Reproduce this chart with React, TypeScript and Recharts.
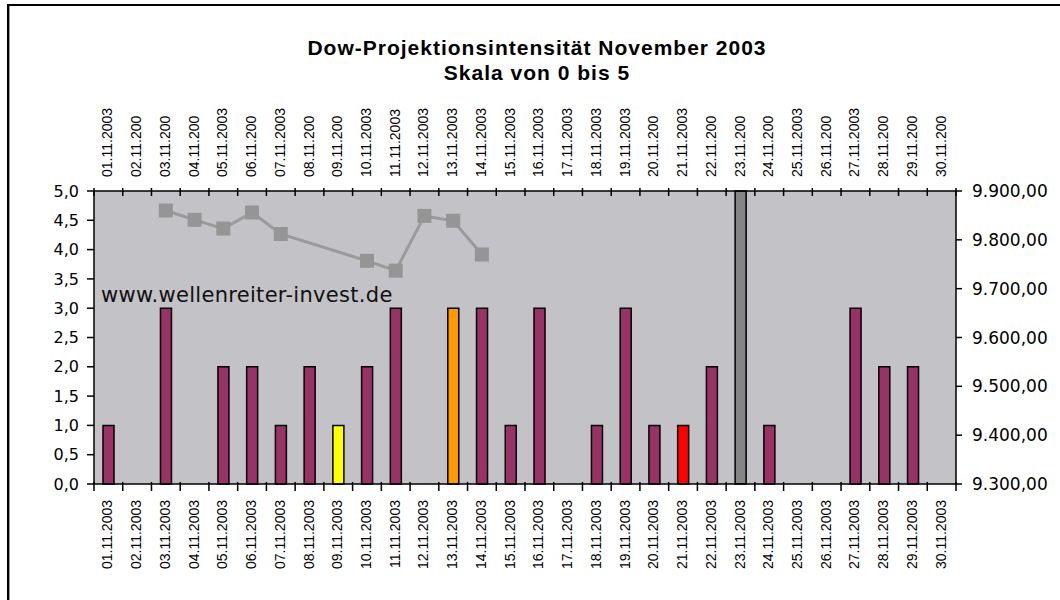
import React from 'react';
import { ComposedChart, Bar, Line, XAxis, YAxis, CartesianGrid, Cell } from 'recharts';

// categories (bottom axis) and the clipped labels Excel shows on the top axis
const days = [
    '01.11.2003', '02.11.2003', '03.11.2003', '04.11.2003', '05.11.2003', '06.11.2003',
    '07.11.2003', '08.11.2003', '09.11.2003', '10.11.2003', '11.11.2003', '12.11.2003',
    '13.11.2003', '14.11.2003', '15.11.2003', '16.11.2003', '17.11.2003', '18.11.2003',
    '19.11.2003', '20.11.2003', '21.11.2003', '22.11.2003', '23.11.2003', '24.11.2003',
    '25.11.2003', '26.11.2003', '27.11.2003', '28.11.2003', '29.11.2003', '30.11.2003'
];
const topLabels = [
    '01.11.2003', '02.11.200', '03.11.200', '04.11.200', '05.11.2003', '06.11.200',
    '07.11.2003', '08.11.200', '09.11.200', '10.11.2003', '11.11.2003', '12.11.2003',
    '13.11.2003', '14.11.2003', '15.11.2003', '16.11.2003', '17.11.2003', '18.11.2003',
    '19.11.2003', '20.11.200', '21.11.2003', '22.11.200', '23.11.200', '24.11.200',
    '25.11.2003', '26.11.200', '27.11.2003', '28.11.200', '29.11.200', '30.11.200'
];

// projection intensity, scale 0..5
const intensity = [1, 0, 3, 0, 2, 2, 1, 2, 1, 2, 3, 0, 3, 3, 1, 3, 0, 1, 3, 1, 1, 2, 5, 1, 0, 0, 3, 2, 2, 0];

// Dow closing values (right axis)
const dowClose = [
    null, null, 9860, 9841, 9823, 9856, 9812, null, null, 9757, 9737, 9849, 9839, 9770,
    null, null, null, null, null, null, null, null, null, null, null, null, null, null, null, null
];

const leftTicks = [0, 0.5, 1, 1.5, 2, 2.5, 3, 3.5, 4, 4.5, 5];
const rightTicks = [9300, 9400, 9500, 9600, 9700, 9800, 9900];

const specialColors: Record<string, string> = {
    '09.11.2003': '#FFFF00',
    '13.11.2003': '#FF9900',
    '21.11.2003': '#FF0000',
    '23.11.2003': '#858585'
};

const W = 1060;
const H = 600;
const PLOT_LEFT = 94;
const PLOT_RIGHT = 956;
const PLOT_TOP = 191;
const PLOT_BOTTOM = 484;
const BAND = (PLOT_RIGHT - PLOT_LEFT) / days.length;

const labelFont = "'Liberation Sans', Arial, sans-serif";
const axisFont = "'DejaVu Sans', sans-serif";

const data = days.map((day, i) => ({
    day,
    top: topLabels[i],
    value: intensity[i],
    dow: dowClose[i]
}));

const fmtLeft = (v: number) => v.toFixed(1).replace('.', ',');
const fmtRight = (v: number) => {
    const [i, d] = v.toFixed(2).split('.');
    return i.replace(/\B(?=(\d{3})+(?!\d))/g, '.') + ',' + d;
};

function BottomTick(props: any) {
    const { x, payload, index } = props;
    const half = payload && payload.offset ? payload.offset : BAND / 2;
    const ty = PLOT_BOTTOM + 16;
    const tx = x - 1;
    return (
        <g>
            <line x1={x - half} x2={x - half} y1={PLOT_BOTTOM - 2} y2={PLOT_BOTTOM + 7} stroke="#000" strokeWidth={1.5} />
            {index === days.length - 1 && (
                <line x1={x + half} x2={x + half} y1={PLOT_BOTTOM - 2} y2={PLOT_BOTTOM + 7} stroke="#000" strokeWidth={1.5} />
            )}
            <text
                x={tx}
                y={ty}
                transform={`rotate(-90 ${tx} ${ty})`}
                textAnchor="end"
                dominantBaseline="central"
                fontFamily={labelFont}
                fontSize={14}
                fill="#000"
            >
                {payload.value}
            </text>
        </g>
    );
}

function TopTick(props: any) {
    const { x, payload, index } = props;
    const half = payload && payload.offset ? payload.offset : BAND / 2;
    const ty = PLOT_TOP - 14;
    const tx = x - 1;
    return (
        <g>
            <line x1={x - half} x2={x - half} y1={PLOT_TOP - 3} y2={PLOT_TOP + 5} stroke="#000" strokeWidth={1.5} />
            {index === days.length - 1 && (
                <line x1={x + half} x2={x + half} y1={PLOT_TOP - 3} y2={PLOT_TOP + 5} stroke="#000" strokeWidth={1.5} />
            )}
            <text
                x={tx}
                y={ty}
                transform={`rotate(-90 ${tx} ${ty})`}
                textAnchor="start"
                dominantBaseline="central"
                fontFamily={labelFont}
                fontSize={14}
                fill="#000"
            >
                {topLabels[index]}
            </text>
        </g>
    );
}

function SquareDot(props: any) {
    const { cx, cy, index } = props;
    if (cx == null || cy == null || props.value == null) return <g key={`d${index}`} />;
    return <rect key={`d${index}`} x={cx - 7} y={cy - 7} width={14} height={14} fill="#959595" />;
}

export default function App() {
    return (
        <div style={{ position: 'absolute', left: 0, top: 0, width: W, height: H, overflow: 'hidden', background: '#fff' }}>
            <div
                style={{
                    position: 'absolute',
                    left: 7,
                    top: 4,
                    right: -40,
                    bottom: -40,
                    borderTop: '2px solid #000',
                    borderLeft: '2px solid #000',
                    boxShadow: 'inset 1px 0 0 #9a9a9a'
                }}
            />
            <div
                style={{
                    position: 'absolute',
                    left: 7,
                    top: 35,
                    width: W,
                    textAlign: 'center',
                    fontFamily: labelFont,
                    fontWeight: 'bold',
                    fontSize: 21,
                    letterSpacing: 1,
                    lineHeight: '25px',
                    color: '#000'
                }}
            >
                <div>Dow-Projektionsintensität November 2003</div>
                <div>Skala von 0 bis 5</div>
            </div>

            <div style={{ position: 'absolute', left: 0, top: 0 }}>
                <ComposedChart
                    width={W}
                    height={H}
                    data={data}
                    margin={{ top: PLOT_TOP - 100, right: W - PLOT_RIGHT - 90, bottom: H - PLOT_BOTTOM - 100, left: PLOT_LEFT - 40 }}
                    barSize={11}
                >
                    <CartesianGrid horizontal={false} vertical={false} fill="#C3C2C6" stroke="none" />
                    <XAxis
                        xAxisId="bottom"
                        dataKey="day"
                        orientation="bottom"
                        height={100}
                        interval={0}
                        axisLine={{ stroke: '#000', strokeWidth: 1.5 }}
                        tickLine={false}
                        tick={<BottomTick />}
                    />
                    <XAxis
                        xAxisId="top"
                        dataKey="top"
                        orientation="top"
                        height={100}
                        interval={0}
                        axisLine={{ stroke: '#000', strokeWidth: 1.5 }}
                        tickLine={false}
                        tick={<TopTick />}
                    />
                    <YAxis
                        yAxisId="left"
                        orientation="left"
                        width={40}
                        domain={[0, 5]}
                        ticks={leftTicks}
                        interval={0}
                        tickFormatter={fmtLeft}
                        axisLine={{ stroke: '#000', strokeWidth: 1.5 }}
                        tickLine={{ stroke: '#000', strokeWidth: 1.5 }}
                        tickSize={7}
                        tickMargin={8}
                        tick={{ fill: '#000', fontSize: 16, fontFamily: axisFont }}
                    />
                    <YAxis
                        yAxisId="right"
                        orientation="right"
                        width={90}
                        domain={[9300, 9900]}
                        ticks={rightTicks}
                        interval={0}
                        tickFormatter={fmtRight}
                        axisLine={{ stroke: '#000', strokeWidth: 1.5 }}
                        tickLine={{ stroke: '#000', strokeWidth: 1.5 }}
                        tickSize={6}
                        tickMargin={10}
                        tick={{ fill: '#000', fontSize: 17, fontFamily: axisFont }}
                    />
                    <Bar
                        xAxisId="bottom"
                        yAxisId="left"
                        dataKey="value"
                        fill="#993366"
                        stroke="#000"
                        strokeWidth={1.5}
                        isAnimationActive={false}
                    >
                        {data.map((d) => (
                            <Cell key={d.day} fill={specialColors[d.day] || '#993366'} />
                        ))}
                    </Bar>
                    <Line
                        xAxisId="top"
                        yAxisId="right"
                        dataKey="dow"
                        stroke="#9a9a9a"
                        strokeWidth={3}
                        connectNulls
                        dot={<SquareDot />}
                        activeDot={false}
                        isAnimationActive={false}
                    />
                </ComposedChart>
            </div>

            <div
                style={{
                    position: 'absolute',
                    left: 101,
                    top: 283,
                    fontFamily: axisFont,
                    fontSize: 21,
                    letterSpacing: 0.3,
                    lineHeight: '24px',
                    color: '#111',
                    pointerEvents: 'none'
                }}
            >
                www.wellenreiter-invest.de
            </div>
        </div>
    );
}
